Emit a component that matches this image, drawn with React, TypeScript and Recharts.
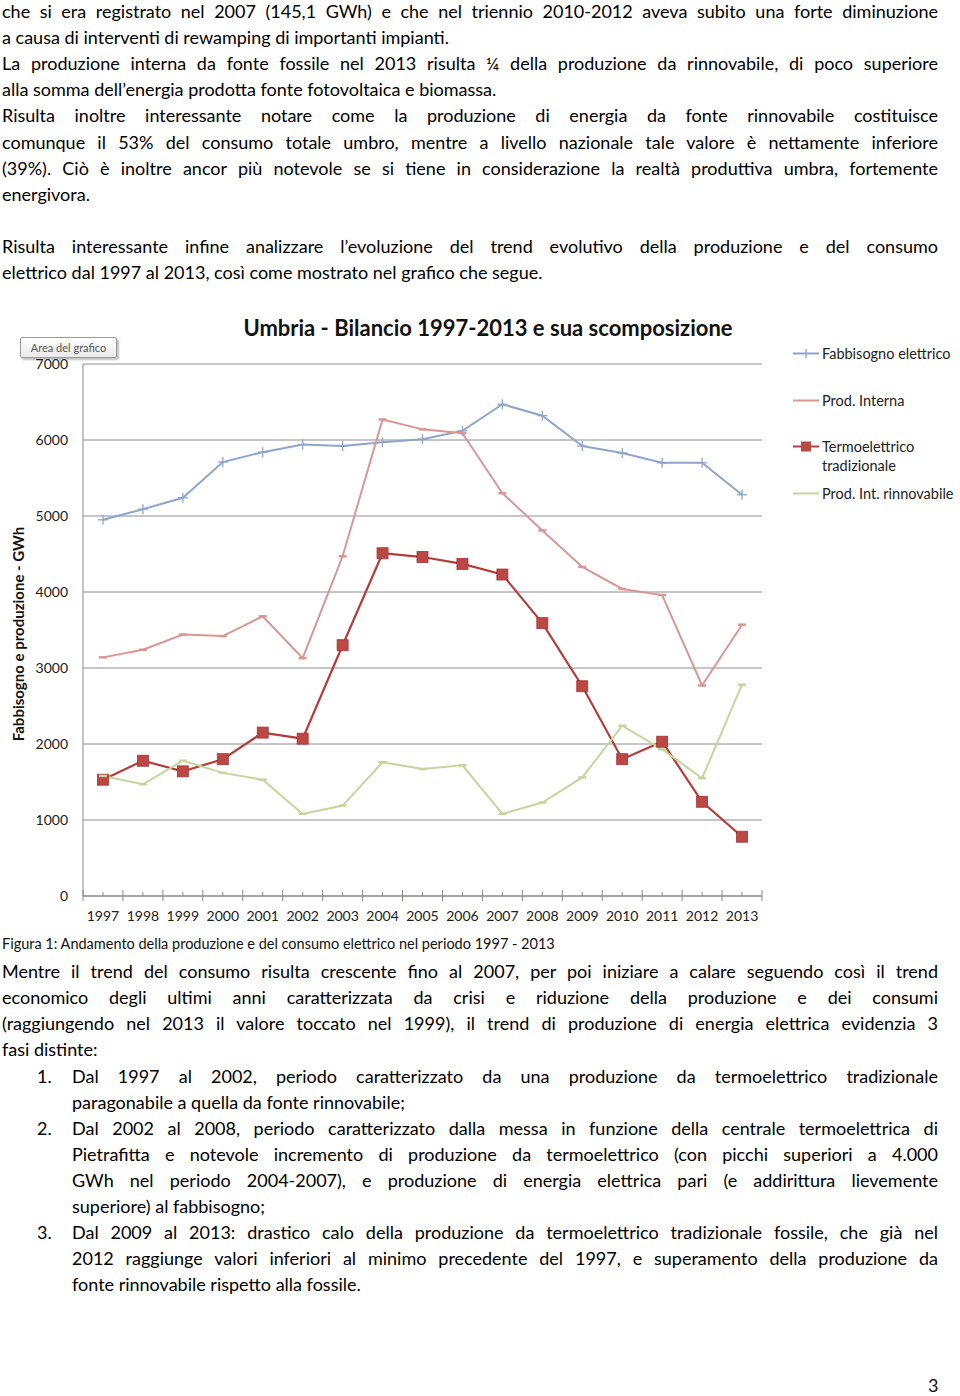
import React from "react"
import { LineChart, Line, XAxis, YAxis, CartesianGrid } from "recharts"

const years = ["1997", "1998", "1999", "2000", "2001", "2002", "2003", "2004", "2005", "2006", "2007", "2008", "2009", "2010", "2011", "2012", "2013"]
const fabbisogno = [4950, 5090, 5240, 5710, 5840, 5940, 5920, 5970, 6010, 6120, 6470, 6320, 5920, 5830, 5700, 5700, 5280]
const prodInterna = [3140, 3240, 3440, 3420, 3680, 3130, 4470, 6270, 6140, 6090, 5300, 4810, 4330, 4040, 3960, 2770, 3570]
const termoelettrico = [1530, 1780, 1640, 1800, 2150, 2070, 3300, 4510, 4460, 4370, 4230, 3590, 2760, 1800, 2030, 1240, 780]
const rinnovabile = [1580, 1470, 1780, 1620, 1530, 1080, 1190, 1760, 1670, 1720, 1080, 1230, 1560, 2240, 1930, 1550, 2780]
const yTicks = [0, 1000, 2000, 3000, 4000, 5000, 6000, 7000]

const topLines: [string, boolean][] = [
  ["che si era registrato nel 2007 (145,1 GWh) e che nel triennio 2010-2012 aveva subito una forte diminuzione", true],
  ["a causa di interventi di rewamping di importanti impianti.", false],
  ["La produzione interna da fonte fossile nel 2013 risulta ¼ della produzione da rinnovabile, di poco superiore", true],
  ["alla somma dell’energia prodotta fonte fotovoltaica e biomassa.", false],
  ["Risulta inoltre interessante notare come la produzione di energia da fonte rinnovabile costituisce", true],
  ["comunque il 53% del consumo totale umbro, mentre a livello nazionale tale valore è nettamente inferiore", true],
  ["(39%). Ciò è inoltre ancor più notevole se si tiene in considerazione la realtà produttiva umbra, fortemente", true],
  ["energivora.", false],
  ["", false],
  ["Risulta interessante infine analizzare l’evoluzione del trend evolutivo della produzione e del consumo", true],
  ["elettrico dal 1997 al 2013, così come mostrato nel grafico che segue.", false],
]

const bottomLines: [string, boolean][] = [
  ["Mentre il trend del consumo risulta crescente fino al 2007, per poi iniziare a calare seguendo così il trend", true],
  ["economico degli ultimi anni caratterizzata da crisi e riduzione della produzione e dei consumi", true],
  ["(raggiungendo nel 2013 il valore toccato nel 1999), il trend di produzione di energia elettrica evidenzia 3", true],
  ["fasi distinte:", false],
]

const listItems: { num: string; lines: [string, boolean][] }[] = [
  {
    num: "1.",
    lines: [
      ["Dal 1997 al 2002, periodo caratterizzato da una produzione da termoelettrico tradizionale", true],
      ["paragonabile a quella da fonte rinnovabile;", false],
    ],
  },
  {
    num: "2.",
    lines: [
      ["Dal 2002 al 2008, periodo caratterizzato dalla messa in funzione della centrale termoelettrica di", true],
      ["Pietrafitta e notevole incremento di produzione da termoelettrico (con picchi superiori a 4.000", true],
      ["GWh nel periodo 2004-2007), e produzione di energia elettrica pari (e addirittura lievemente", true],
      ["superiore) al fabbisogno;", false],
    ],
  },
  {
    num: "3.",
    lines: [
      ["Dal 2009 al 2013: drastico calo della produzione da termoelettrico tradizionale fossile, che già nel", true],
      ["2012 raggiunge valori inferiori al minimo precedente del 1997, e superamento della produzione da", true],
      ["fonte rinnovabile rispetto alla fossile.", false],
    ],
  },
]

const data = years.map((y, i) => ({
  year: y,
  fabbisogno: fabbisogno[i],
  interna: prodInterna[i],
  termo: termoelettrico[i],
  rinnov: rinnovabile[i],
}))

const FONT = "Lato, 'Noto Sans', sans-serif"
const BLUE = "#8FA5CA"
const PINK = "#D99794"
const DARKRED = "#B23D3A"
const GREEN = "#C3D69B"

const PLOT_LEFT = 83
const PLOT_RIGHT = 762
const BAND = (PLOT_RIGHT - PLOT_LEFT) / years.length

function TextLine({ text, justify, top, left, width, size = 18 }: any) {
  return (
    <div
      style={{
        position: "absolute",
        top,
        left,
        width,
        height: 26,
        fontFamily: FONT,
        fontSize: size,
        lineHeight: "26px",
        color: "#000",
        whiteSpace: "nowrap",
        textAlign: justify ? "justify" : "left",
        textAlignLast: justify ? "justify" : "left",
      }}
    >
      {text}
    </div>
  )
}

function CrossDot(props: any) {
  const { cx, cy, index } = props
  return (
    <g key={"c" + index}>
      <line x1={cx - 5} x2={cx + 5} y1={cy} y2={cy} stroke={BLUE} strokeWidth={1.3} />
      <line x1={cx} x2={cx} y1={cy - 5} y2={cy + 5} stroke={BLUE} strokeWidth={1.3} />
    </g>
  )
}

function DashDot(color: string) {
  return (props: any) => {
    const { cx, cy, index } = props
    return <line key={"d" + color + index} x1={cx - 4} x2={cx + 4} y1={cy} y2={cy} stroke={color} strokeWidth={2.5} />
  }
}

function SquareDot(props: any) {
  const { cx, cy, index } = props
  return <rect key={"s" + index} x={cx - 5.5} y={cy - 5.5} width={11} height={11} fill="#BC4845" stroke="#A33532" strokeWidth={0.8} />
}

function YearTick(props: any) {
  const { x, y, payload, index } = props
  const last = index === years.length - 1
  return (
    <g>
      <line x1={x - BAND / 2} x2={x - BAND / 2} y1={y - 6} y2={y + 5} stroke="#888" strokeWidth={1} />
      {last && <line x1={x + BAND / 2} x2={x + BAND / 2} y1={y - 6} y2={y + 5} stroke="#888" strokeWidth={1} />}
      <line x1={x} x2={x} y1={y - 4} y2={y} stroke="#888" strokeWidth={1} />
      <text x={x} y={y + 25} textAnchor="middle" fontFamily={FONT} fontSize={14} fill="#222">
        {payload.value}
      </text>
    </g>
  )
}

function LegendItem({ top, color, marker, label }: any) {
  return (
    <div style={{ position: "absolute", left: 793, top, fontFamily: FONT, fontSize: 14.5, color: "#222", lineHeight: "19px" }}>
      <svg width={28} height={19} style={{ position: "absolute", left: 0, top: 0 }}>
        <line x1={0} x2={26} y1={9.5} y2={9.5} stroke={color} strokeWidth={2} />
        {marker === "cross" && <line x1={13} x2={13} y1={5} y2={14} stroke={color} strokeWidth={1.3} />}
        {marker === "square" && <rect x={8} y={4.5} width={10} height={10} fill="#BC4845" />}
      </svg>
      <div style={{ position: "absolute", left: 29, top: 0, whiteSpace: "nowrap" }}>{label}</div>
    </div>
  )
}

export default function App() {
  return (
    <div style={{ position: "absolute", left: 0, top: 0, width: 960, height: 1396, background: "#fff", overflow: "hidden" }}>
      {topLines.map(([t, j], i) => (
        <TextLine key={"t" + i} text={t} justify={j} top={-2 + i * 26.1} left={2} width={936} />
      ))}

      <div
        style={{
          position: "absolute",
          left: 0,
          width: 976,
          top: 314,
          textAlign: "center",
          fontFamily: FONT,
          fontWeight: 700,
          fontSize: 22,
          color: "#111",
        }}
      >
        Umbria - Bilancio 1997-2013 e sua scomposizione
      </div>

      <div
        style={{
          position: "absolute",
          left: 20,
          top: 337,
          width: 95,
          height: 19,
          border: "1px solid #9a9a9a",
          borderRadius: 2,
          background: "linear-gradient(#ffffff, #e9e9e9)",
          boxShadow: "2px 2px 2px rgba(0,0,0,0.25)",
          fontFamily: FONT,
          fontSize: 11,
          color: "#555",
          lineHeight: "19px",
          textAlign: "center",
        }}
      >
        Area del grafico
      </div>

      <div
        style={{
          position: "absolute",
          left: 18,
          top: 634,
          transform: "translate(-50%, -50%) rotate(-90deg)",
          fontFamily: FONT,
          fontWeight: 700,
          fontSize: 15,
          color: "#111",
          whiteSpace: "nowrap",
        }}
      >
        Fabbisogno e produzione - GWh
      </div>

      <div style={{ position: "absolute", left: 0, top: 300 }}>
        <LineChart width={960} height={640} data={data} margin={{ top: 64, right: 198, bottom: 0, left: 0 }}>
          <CartesianGrid horizontal vertical={false} stroke="#8c8c8c" strokeWidth={1} />
          <XAxis
            dataKey="year"
            height={44}
            padding={{ left: BAND / 2, right: BAND / 2 }}
            axisLine={{ stroke: "#888" }}
            tickLine={false}
            tickSize={0}
            tickMargin={0}
            interval={0}
            tick={<YearTick />}
          />
          <YAxis
            width={83}
            domain={[0, 7000]}
            ticks={yTicks}
            interval={0}
            axisLine={{ stroke: "#888" }}
            tickLine={false}
            tickSize={0}
            tickMargin={15}
            tick={{ fontFamily: FONT, fontSize: 14, fill: "#222" }}
          />
          <Line dataKey="fabbisogno" stroke={BLUE} strokeWidth={2} dot={CrossDot} isAnimationActive={false} />
          <Line dataKey="interna" stroke={PINK} strokeWidth={2} dot={DashDot(PINK)} isAnimationActive={false} />
          <Line dataKey="termo" stroke={DARKRED} strokeWidth={2.2} dot={SquareDot} isAnimationActive={false} />
          <Line dataKey="rinnov" stroke={GREEN} strokeWidth={2} dot={DashDot(GREEN)} isAnimationActive={false} />
        </LineChart>
      </div>

      <LegendItem top={344} color={BLUE} marker="cross" label="Fabbisogno elettrico" />
      <LegendItem top={391} color={PINK} marker="dash" label="Prod. Interna" />
      <LegendItem top={437} color={DARKRED} marker="square" label={<span>Termoelettrico<br />tradizionale</span>} />
      <LegendItem top={484} color={GREEN} marker="dash" label="Prod. Int. rinnovabile" />

      <div style={{ position: "absolute", left: 2, top: 935, fontFamily: FONT, fontSize: 14.5, color: "#111", whiteSpace: "nowrap" }}>
        Figura 1: Andamento della produzione e del consumo elettrico nel periodo 1997 - 2013
      </div>

      {bottomLines.map(([t, j], i) => (
        <TextLine key={"b" + i} text={t} justify={j} top={958 + i * 26.1} left={2} width={936} />
      ))}

      {listItems.map((item, k) => {
        const start = [1063, 1115, 1219][k]
        return (
          <React.Fragment key={"l" + k}>
            <TextLine text={item.num} justify={false} top={start} left={37} width={30} />
            {item.lines.map(([t, j], i) => (
              <TextLine key={"li" + k + i} text={t} justify={j} top={start + i * 26.1} left={72} width={866} />
            ))}
          </React.Fragment>
        )
      })}

      <div style={{ position: "absolute", left: 928, top: 1374, fontFamily: FONT, fontSize: 18, color: "#111" }}>3</div>
    </div>
  )
}
